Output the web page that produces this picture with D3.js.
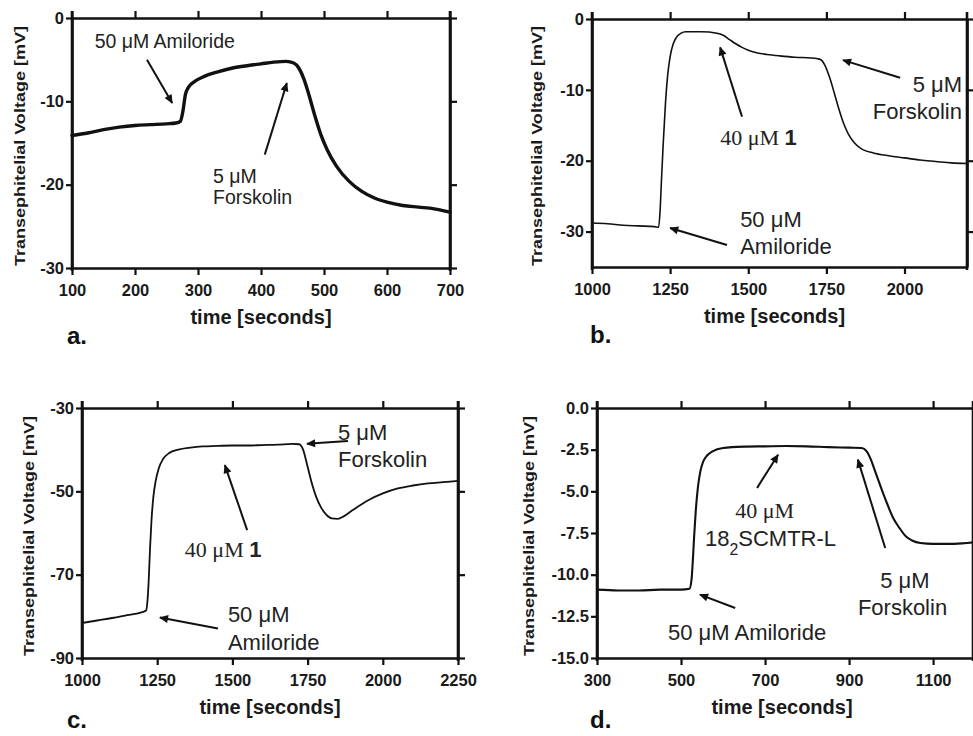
<!DOCTYPE html>
<html><head><meta charset="utf-8">
<script src="https://cdn.jsdelivr.net/npm/d3@7"></script>
<style>
html,body{margin:0;padding:0;background:#fff;}
svg{display:block;font-family:"Liberation Sans",Arial,sans-serif;}
</style></head>
<body>
<svg id="chart" width="973" height="736"></svg>
<script>
// ---------- DATA ----------
const panelA_time = [100,125,150,175,200,225,250,265,272,276,280,285,295,310,330,355,380,400,420,440,452,460,468,476,485,495,505,520,540,560,580,600,625,650,675,700];
const panelA_voltage = [-14.1,-13.8,-13.4,-13.1,-12.9,-12.8,-12.7,-12.6,-12.4,-11.2,-9.2,-8.3,-7.6,-7.0,-6.5,-6.0,-5.7,-5.5,-5.3,-5.2,-5.4,-6.0,-7.3,-9.2,-11.6,-14.0,-15.8,-17.8,-19.6,-20.8,-21.6,-22.1,-22.5,-22.7,-22.9,-23.3];
const panelA_xTicks = [100,200,300,400,500,600,700];
const panelA_yTicks = [0,-10,-20,-30];

const panelB_time = [1000,1050,1100,1150,1200,1213,1218,1222,1228,1235,1242,1250,1260,1270,1285,1300,1350,1400,1420,1440,1460,1480,1500,1530,1560,1600,1650,1700,1730,1745,1760,1775,1790,1805,1820,1840,1865,1900,1950,2000,2050,2100,2150,2200];
const panelB_voltage = [-28.8,-28.9,-29.1,-29.2,-29.3,-29.4,-27,-23,-17.5,-12,-8,-5.3,-3.5,-2.6,-2.0,-1.8,-1.8,-2.0,-2.3,-2.9,-3.5,-4.0,-4.4,-4.8,-5.0,-5.2,-5.4,-5.5,-5.7,-6.5,-8.2,-10.4,-12.7,-14.7,-16.2,-17.5,-18.4,-18.9,-19.3,-19.6,-19.9,-20.1,-20.3,-20.4];
const panelB_xTicks = [1000,1250,1500,1750,2000];
const panelB_yTicks = [0,-10,-20,-30];

const panelC_time = [1000,1050,1100,1150,1200,1213,1218,1222,1226,1231,1237,1245,1255,1270,1290,1320,1360,1400,1450,1500,1550,1600,1650,1700,1722,1735,1748,1762,1778,1795,1812,1830,1850,1870,1900,1950,2000,2050,2100,2150,2200,2250];
const panelC_voltage = [-81.6,-81.0,-80.4,-79.7,-79.0,-78.6,-76,-71,-64,-57,-51.5,-47.5,-44.5,-42.2,-40.8,-40.0,-39.5,-39.2,-39.1,-39.0,-39.0,-38.9,-38.8,-38.6,-38.7,-40,-43.5,-47.5,-51.2,-53.9,-55.6,-56.5,-56.6,-56.0,-54.5,-52.2,-50.5,-49.3,-48.6,-48.1,-47.8,-47.5];
const panelC_xTicks = [1000,1250,1500,1750,2000,2250];
const panelC_yTicks = [-30,-50,-70,-90];

const panelD_time = [300,350,400,450,500,520,525,528,531,535,540,546,553,562,575,600,650,700,750,800,850,900,930,942,952,962,975,990,1005,1020,1035,1050,1070,1100,1150,1200];
const panelD_voltage = [-10.9,-10.95,-10.95,-10.9,-10.9,-10.85,-10.3,-9.2,-7.8,-6.2,-4.8,-3.8,-3.2,-2.85,-2.6,-2.4,-2.32,-2.3,-2.28,-2.3,-2.35,-2.38,-2.4,-2.6,-3.1,-3.8,-4.7,-5.7,-6.6,-7.2,-7.7,-7.95,-8.1,-8.15,-8.15,-8.05];
const panelD_xTicks = [300,500,700,900,1100];
const panelD_yTicks = [0,-2.5,-5,-7.5,-10,-12.5,-15];

const xTitle = "time [seconds]";
const yTitle = "Transephitelial Voltage [mV]";
const panelLetters = ["a.","b.","c.","d."];

// ---------- DRAW ----------
const svg = d3.select("#chart");
const defs = svg.append("defs");
defs.append("marker").attr("id","ah").attr("viewBox","0 -5 10 10")
  .attr("refX",9).attr("refY",0).attr("markerWidth",11).attr("markerHeight",9)
  .attr("markerUnits","userSpaceOnUse").attr("orient","auto")
  .append("path").attr("d","M0,-4.5L10,0L0,4.5Z").attr("fill","#111");

function panel(cfg){
  const g = svg.append("g");
  const x = d3.scaleLinear().domain(cfg.xDomain).range([cfg.left,cfg.right]);
  const y = d3.scaleLinear().domain(cfg.yDomain).range([cfg.bottom,cfg.top]);
  const fmt = cfg.yFmt || (d => String(d));
  const axStyle = sel => {
    sel.selectAll("path").attr("stroke","#111").attr("stroke-width",2.6);
    sel.selectAll("line").attr("stroke","#111").attr("stroke-width",2.2);
    sel.selectAll("text").attr("fill","#1a1a1a").attr("font-size",16.5).attr("font-weight","bold")
      .attr("font-family","'Liberation Sans',Arial,sans-serif");
  };
  g.append("g").attr("transform",`translate(0,${cfg.bottom})`)
    .call(d3.axisBottom(x).tickValues(cfg.xTicks).tickSize(7).tickSizeOuter(0).tickPadding(9).tickFormat(d => String(d)))
    .call(axStyle);
  g.append("g").attr("transform",`translate(0,${cfg.top})`)
    .call(d3.axisTop(x).tickValues(cfg.xTicks).tickSize(7).tickSizeOuter(0).tickFormat(""))
    .call(axStyle);
  g.append("g").attr("transform",`translate(${cfg.left},0)`)
    .call(d3.axisLeft(y).tickValues(cfg.yTicks).tickSize(6).tickSizeOuter(0).tickPadding(2).tickFormat(fmt))
    .call(axStyle);
  g.append("g").attr("transform",`translate(${cfg.right},0)`)
    .call(d3.axisRight(y).tickValues(cfg.yTicks).tickSize(7).tickSizeOuter(0).tickFormat(""))
    .call(axStyle);
  g.append("line").attr("x1",cfg.left).attr("x2",cfg.left).attr("y1",cfg.top-7).attr("y2",cfg.bottom+3)
    .attr("stroke","#111").attr("stroke-width",2.6);
  g.append("line").attr("x1",cfg.right).attr("x2",cfg.right).attr("y1",cfg.top-7).attr("y2",cfg.bottom+3)
    .attr("stroke","#111").attr("stroke-width",2.6);

  const data = cfg.time.map((t,i)=>({t,v:cfg.volt[i]}));
  g.append("path").datum(data)
    .attr("fill","none").attr("stroke","#111").attr("stroke-width",cfg.lw)
    .attr("stroke-linejoin","round").attr("stroke-linecap","round")
    .attr("d",d3.line().x(d=>x(d.t)).y(d=>y(d.v)).curve(d3.curveMonotoneX));

  g.append("text").attr("x",(cfg.left+cfg.right)/2+cfg.xtDx).attr("y",cfg.bottom+56)
    .attr("text-anchor","middle").attr("font-size",20).attr("font-weight","bold").attr("fill","#1a1a1a")
    .text(xTitle);
  const cy = (cfg.top+cfg.bottom)/2+3;
  g.append("text").attr("transform",`translate(${cfg.ylX},${cy}) rotate(-90)`)
    .attr("text-anchor","middle").attr("dy","0.35em").attr("font-size",15).attr("font-weight","bold")
    .attr("fill","#1a1a1a").attr("textLength",240).attr("lengthAdjust","spacingAndGlyphs")
    .text(yTitle);
  g.append("text").attr("x",cfg.letterX).attr("y",Math.min(cfg.bottom+76,728))
    .attr("font-size",24).attr("font-weight","bold").attr("fill","#111").text(cfg.letter);

  cfg.arrows.forEach(a=>{
    g.append("line").attr("x1",x(a[0])).attr("y1",y(a[1])).attr("x2",x(a[2])).attr("y2",y(a[3]))
      .attr("stroke","#111").attr("stroke-width",2).attr("marker-end","url(#ah)");
  });
  cfg.labels.forEach(l=>{
    const t = g.append("text").attr("x",x(l.t)).attr("y",y(l.v)).attr("fill","#222")
      .attr("font-size",l.size).attr("text-anchor",l.anchor||"start");
    l.parts.forEach(p=>{
      const s = t.append("tspan").text(p.s);
      if(p.serif) s.attr("font-family","'Liberation Serif','Times New Roman',serif");
      if(p.bold) s.attr("font-weight","bold");
      if(p.sub) s.attr("baseline-shift","sub").attr("font-size",l.size*0.72);
    });
  });
}

panel({letter:panelLetters[0],left:72,right:450,top:18,bottom:268,xDomain:[100,700],yDomain:[-30,0],
  xTicks:panelA_xTicks,yTicks:panelA_yTicks,time:panelA_time,volt:panelA_voltage,lw:3.4,
  ylX:20,letterX:67,xtDx:0,
  arrows:[[219,-5.0,259,-10.2],[406,-16.4,441,-7.8]],
  labels:[
    {t:136,v:-3.6,size:19.5,parts:[{s:"50 μM Amiloride"}]},
    {t:324,v:-19.8,size:19.5,parts:[{s:"5 μM"}]},
    {t:324,v:-22.3,size:19.5,parts:[{s:"Forskolin"}]}
  ]});

panel({letter:panelLetters[1],left:592,right:967,top:19,bottom:267,xDomain:[1000,2200],yDomain:[-35,0],
  xTicks:panelB_xTicks,yTicks:panelB_yTicks,time:panelB_time,volt:panelB_voltage,lw:1.6,
  ylX:537,letterX:590,xtDx:-5,
  arrows:[[1480,-13.8,1410,-4.0],[1986,-8.3,1803,-5.8],[1432,-31.9,1250,-29.5]],
  labels:[
    {t:1410,v:-17.8,size:22,parts:[{s:"40 μM ",serif:true},{s:"1",bold:true}]},
    {t:2184,v:-10.3,size:22,anchor:"end",parts:[{s:"5 μM"}]},
    {t:2184,v:-14.1,size:22,anchor:"end",parts:[{s:"Forskolin"}]},
    {t:1474,v:-29.4,size:22,parts:[{s:"50 μM"}]},
    {t:1474,v:-33.2,size:22,parts:[{s:"Amiloride"}]}
  ]});

panel({letter:panelLetters[2],left:82,right:458,top:408,bottom:658,xDomain:[1000,2250],yDomain:[-90,-30],
  xTicks:panelC_xTicks,yTicks:panelC_yTicks,time:panelC_time,volt:panelC_voltage,lw:1.8,
  ylX:29,letterX:67,xtDx:0,
  arrows:[[1884,-37.9,1748,-38.6],[1549,-59.3,1475,-43.7],[1452,-82.9,1259,-80.3]],
  labels:[
    {t:1851,v:-37.7,size:22,parts:[{s:"5 μM"}]},
    {t:1851,v:-44.2,size:22,parts:[{s:"Forskolin"}]},
    {t:1342,v:-65.8,size:22,parts:[{s:"40 μM ",serif:true},{s:"1",bold:true}]},
    {t:1485,v:-81.4,size:22,parts:[{s:"50 μM"}]},
    {t:1485,v:-88.1,size:22,parts:[{s:"Amiloride"}]}
  ]});

panel({letter:panelLetters[3],left:597,right:973,top:408,bottom:658,xDomain:[300,1195],yDomain:[-15,0],
  xTicks:panelD_xTicks,yTicks:panelD_yTicks,time:panelD_time,volt:panelD_voltage,lw:2.1,
  ylX:529,letterX:590,xtDx:-3,yFmt:(d => d.toFixed(1)),
  arrows:[[681,-4.8,731,-2.8],[986,-8.4,921,-3.1],[629,-12.0,545,-11.2]],
  labels:[
    {t:629,v:-6.6,size:22,parts:[{s:"40 μM",serif:true}]},
    {t:557,v:-8.3,size:22,parts:[{s:"18"},{s:"2",sub:true},{s:"SCMTR-L"}]},
    {t:974,v:-10.8,size:22,parts:[{s:"5 μM"}]},
    {t:921,v:-12.4,size:22,parts:[{s:"Forskolin"}]},
    {t:469,v:-13.9,size:22,parts:[{s:"50 μM Amiloride"}]}
  ]});
</script>
</body></html>
